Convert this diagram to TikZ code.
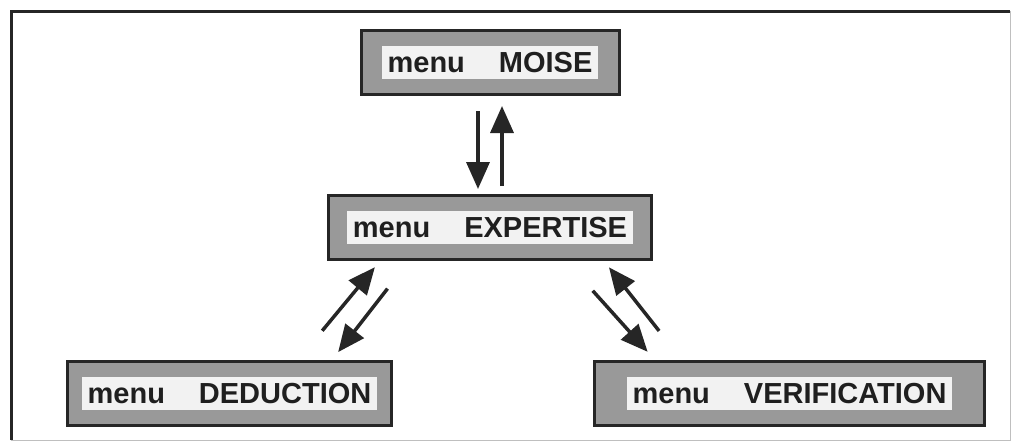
\documentclass[tikz,border=0pt]{standalone}
\usepackage{fontspec}
\setmainfont{Liberation Sans}
\usepackage{xcolor}
\usetikzlibrary{positioning, arrows.meta}
\setlength{\fboxsep}{6pt}
\newcommand{\menuline}[1]{\colorbox{gray!10}{menu\hspace{34pt}#1}}

\begin{document}
\begin{tikzpicture}[
		x=1pt, y=1pt,
		>={Triangle[length=27pt,width=23pt]},
		menubox/.style={draw=black!85, line width=3pt, fill=black!40, rectangle,
			minimum height=64pt, inner sep=0pt, text=black!88,
			font=\bfseries\fontsize{29}{31}\selectfont},
		link/.style={->, line width=3.5pt, draw=black!85}]

	\useasboundingbox (0,0) rectangle (1015,-445);

	% frame
	\draw[line width=3pt, black!85] (11,-440) -- (11,-11) -- (1010,-11);
	\draw[line width=1pt, black!25] (1010,-11) -- (1010,-440) -- (11,-440);

	\node[menubox, minimum width=258pt] (moise) at (490,-62.5) {\menuline{MOISE}};
	\node[menubox, minimum width=323pt, below=98pt of moise] (expertise) {\menuline{EXPERTISE}};
	\node[menubox, minimum width=324pt, below left=99pt and -66pt of expertise] (deduction) {\menuline{DEDUCTION}};
	\node[menubox, minimum width=390pt, below right=99pt and -60pt of expertise] (verification) {\menuline{VERIFICATION}};

	\draw[link, shorten <=15pt, shorten >=5pt] ([xshift=-12pt]moise.south) -- ([xshift=-12pt]expertise.north);
	\draw[link, shorten <=8pt, shorten >=10pt] ([xshift=12pt]expertise.north) -- ([xshift=12pt]moise.south);

	\draw[link, shorten <=38pt, shorten >=8pt] ([xshift=-95pt]deduction.north east) -- ([xshift=53pt]expertise.south west);
	\draw[link, shorten <=35pt, shorten >=10pt] ([xshift=82pt]expertise.south west) -- ([xshift=-61pt]deduction.north east);

	\draw[link, shorten <=40pt, shorten >=11pt] ([xshift=-87pt]expertise.south east) -- ([xshift=62pt]verification.north west);
	\draw[link, shorten <=37pt, shorten >=8pt] ([xshift=89pt]verification.north west) -- ([xshift=-49pt]expertise.south east);

\end{tikzpicture}
\end{document}
